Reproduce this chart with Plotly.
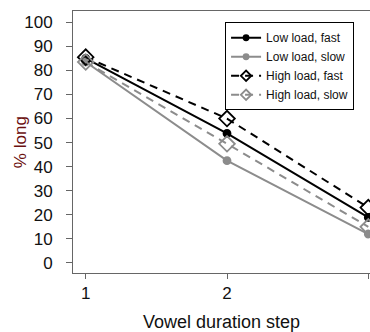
import plotly.graph_objects as go

steps = [1, 2, 3]
low_fast = [85.0, 53.8, 18.9]
low_slow = [83.5, 42.5, 12.0]
high_fast = [85.5, 60.0, 23.0]
high_slow = [83.5, 49.5, 15.0]
y_ticks = [0, 10, 20, 30, 40, 50, 60, 70, 80, 90, 100]

BLACK = "#000000"
GRAY = "#8c8c8c"

series = [
    ("Low load, fast", low_fast, BLACK, "solid", "circle", 7, 5),
    ("Low load, slow", low_slow, GRAY, "solid", "circle", 7, 5),
    ("High load, fast", high_fast, BLACK, "8px,6px", "diamond-open", 12, 8),
    ("High load, slow", high_slow, GRAY, "8px,6px", "diamond-open", 12, 8),
]

fig = go.Figure()
for name, vals, color, dash, sym, msize, lsize in series:
    fig.add_trace(go.Scatter(x=steps, y=vals, name=name, mode="lines+markers",
                             legendgroup=name, showlegend=False,
                             line=dict(color=color, width=2, dash=dash),
                             marker=dict(symbol=sym, size=msize, color=color,
                                         line=dict(width=1.8, color=color)),
                             cliponaxis=False))
for name, vals, color, dash, sym, msize, lsize in series:
    # legend entry with smaller marker (no data drawn)
    fig.add_trace(go.Scatter(x=[None], y=[None], name=name, mode="lines+markers",
                             legendgroup=name, showlegend=True,
                             line=dict(color=color, width=2, dash=dash),
                             marker=dict(symbol=sym, size=lsize, color=color,
                                         line=dict(width=1.8, color=color))))

axis_font = dict(family="Arial, Liberation Sans, sans-serif", size=17, color="#111111")

fig.update_layout(
    width=370, height=332,
    margin=dict(l=73, r=0, t=11, b=59, autoexpand=False),
    plot_bgcolor="white", paper_bgcolor="white",
    font=dict(family="Arial, Liberation Sans, sans-serif", color="#111111"),
    showlegend=True,
    legend=dict(x=0.512, y=0.957, xanchor="left", yanchor="top",
                bordercolor="#000000", borderwidth=1, bgcolor="white",
                font=dict(size=12, color="#111111"),
                tracegroupgap=0, itemwidth=30),
    xaxis=dict(range=[0.91, 3.012], tickvals=steps, ticktext=[str(s) for s in steps],
               showgrid=False, zeroline=False, showline=True, linecolor="#666666", linewidth=1,
               mirror=True, ticks="outside", ticklen=5, tickcolor="#666666",
               tickfont=axis_font, automargin=False,
               title=dict(text="Vowel duration step", font=dict(size=18, color="#111111"), standoff=12)),
    yaxis=dict(range=[-4.2, 104.7], tickvals=y_ticks, ticktext=[str(v) for v in y_ticks],
               showgrid=False, zeroline=False, showline=True, linecolor="#666666", linewidth=1,
               mirror=True, ticks="outside", ticklen=6, tickcolor="#666666",
               tickfont=axis_font, ticklabelstandoff=10, automargin=False),
    annotations=[dict(text="% long", textangle=-90, xref="paper", yref="paper",
                      x=-0.178, y=0.5, xanchor="center", yanchor="middle", showarrow=False,
                      font=dict(size=17, color="#6b1010"))],
)

fig.write_html("out.html", config={"displayModeBar": False},
               post_script="document.body.style.margin='0';document.body.style.overflow='hidden';")
